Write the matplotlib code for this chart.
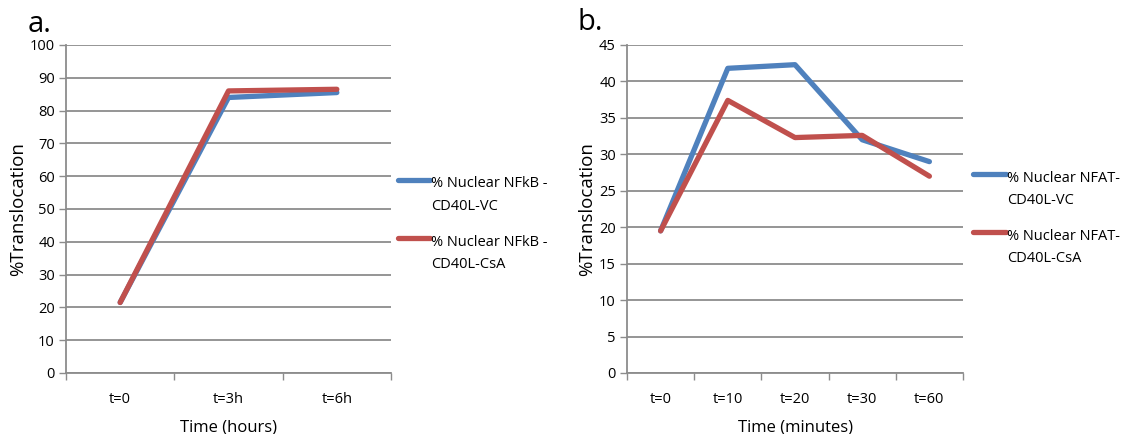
import numpy as np
import matplotlib
matplotlib.use('Agg')
import matplotlib.pyplot as plt
from matplotlib.lines import Line2D

plt.rcParams['font.family'] = ['Open Sans', 'DejaVu Sans']

# panel a
cats_a = ['t=0', 't=3h', 't=6h']
nfkb_vc = [21.5, 84.0, 85.5]
nfkb_csa = [21.5, 86.0, 86.5]
labels_a = ['% Nuclear NFkB -\nCD40L-VC', '% Nuclear NFkB -\nCD40L-CsA']

# panel b
cats_b = ['t=0', 't=10', 't=20', 't=30', 't=60']
nfat_vc = [19.5, 41.8, 42.3, 32.0, 29.0]
nfat_csa = [19.5, 37.4, 32.3, 32.6, 27.0]
labels_b = ['% Nuclear NFAT-\nCD40L-VC', '% Nuclear NFAT-\nCD40L-CsA']

BLUE = '#4F81BD'
RED = '#C0504D'
GRID = '#8c8c8c'

W, H = 1124, 434
fig = plt.figure(figsize=(W / 100, H / 100), dpi=100)


def px_axes(x0, x1, y0, y1):
    return fig.add_axes([x0 / W, 1 - y1 / H, (x1 - x0) / W, (y1 - y0) / H])


def style(ax, cats, ymax, ystep):
    n = len(cats)
    ax.set_xlim(-0.5, n - 0.5)
    ax.set_ylim(0, ymax)
    ax.set_yticks(np.arange(0, ymax + 0.1, ystep))
    ax.set_xticks(np.arange(-0.5, n, 1.0))
    ax.set_xticklabels([])
    ax.set_xticks(np.arange(n), minor=True)
    ax.set_xticklabels(cats, minor=True)
    ax.tick_params(axis='x', which='major', length=5, color=GRID, width=1)
    ax.tick_params(axis='x', which='minor', length=0, pad=14, labelsize=10.5)
    ax.tick_params(axis='y', length=5, color=GRID, width=1, labelsize=10.5, pad=3)
    ax.grid(axis='y', color=GRID, lw=1.3)
    ax.set_axisbelow(True)
    for s in ['top', 'right']:
        ax.spines[s].set_visible(False)
    for s in ['left', 'bottom']:
        ax.spines[s].set_color(GRID)
        ax.spines[s].set_linewidth(1.3)
    ax.set_ylabel('%Translocation', fontsize=13.5, labelpad=2)


def legend(x0, x1, ys, labels, colors):
    # handle sits on the first text line, like the Excel legend
    for y, lab, c in zip(ys, labels, colors):
        fig.add_artist(Line2D([x0 / W, x1 / W], [1 - y / H, 1 - y / H], color=c,
                              lw=3.8, solid_capstyle='round'))
        for i, line in enumerate(lab.split('\n')):
            fig.text((x1 + 1) / W, 1 - (y + 4 + 23 * i) / H, line, fontsize=10.5,
                     va='center', ha='left')


ax1 = px_axes(66, 391, 45, 373)
x = np.arange(len(cats_a))
ax1.plot(x, nfkb_vc, color=BLUE, lw=3.8, solid_capstyle='round')
ax1.plot(x, nfkb_csa, color=RED, lw=3.8, solid_capstyle='round')
style(ax1, cats_a, 100, 10)
ax1.set_xlabel('Time (hours)', fontsize=12, labelpad=9)
legend(398, 430, [180, 238], labels_a, [BLUE, RED])
fig.text(28 / W, 1 - 24 / H, 'a.', fontsize=21, va='center', ha='left')

ax2 = px_axes(627, 963, 45, 373)
x = np.arange(len(cats_b))
ax2.plot(x, nfat_vc, color=BLUE, lw=3.8, solid_capstyle='round')
ax2.plot(x, nfat_csa, color=RED, lw=3.8, solid_capstyle='round')
style(ax2, cats_b, 45, 5)
ax2.set_xlabel('Time (minutes)', fontsize=12, labelpad=9)
legend(973, 1006, [174, 232], labels_b, [BLUE, RED])
fig.text(577 / W, 1 - 22 / H, 'b.', fontsize=21, va='center', ha='left')

fig.savefig('out.png', dpi=100, facecolor='white')
